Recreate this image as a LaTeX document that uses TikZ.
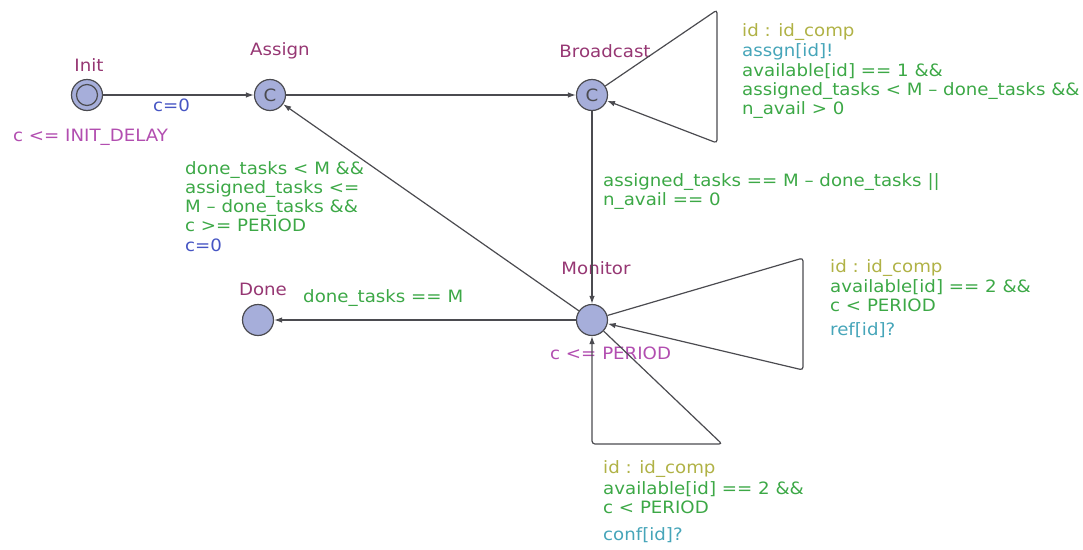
\documentclass[tikz,border=0pt]{standalone}
\usepackage{fontspec}
\setmainfont{DejaVu Sans}[FakeStretch=1.07]
\usetikzlibrary{arrows.meta}
\definecolor{locname}{RGB}{150,55,115}
\definecolor{invcol}{RGB}{178,78,176}
\definecolor{guardcol}{RGB}{60,168,70}
\definecolor{selcol}{RGB}{176,178,70}
\definecolor{synccol}{RGB}{70,165,185}
\definecolor{updcol}{RGB}{70,85,195}
\definecolor{locfill}{RGB}{166,174,218}
\definecolor{edgecol}{RGB}{75,75,80}
\tikzset{
  loc/.style={circle, draw=edgecol, line width=1.2pt, fill=locfill,
    minimum size=31pt, inner sep=0pt, font=\fontsize{17}{17}\selectfont, text=edgecol},
  edge/.style={draw=edgecol, line width=1.2pt, rounded corners=3pt,
    -{Latex[length=8pt,width=5.5pt]}},
  lbl/.style={inner sep=0pt, anchor=west, align=left,
    font=\fontsize{17}{19}\selectfont},
  lname/.style={lbl, anchor=center, text=locname},
  inv/.style={lbl, text=invcol},
  guard/.style={lbl, text=guardcol},
  sel/.style={lbl, text=selcol},
  sync/.style={lbl, text=synccol},
  upd/.style={lbl, text=updcol},
}
\begin{document}
\begin{tikzpicture}[x=1pt, y=-1pt]
\useasboundingbox (0,0) rectangle (1083,549);

% locations
\node[loc] (init) at (87,95) {};
\node[circle, draw=edgecol, line width=1.2pt, minimum size=21pt, inner sep=0pt] at (init) {};
\node[loc] (assign) at (270,95) {C};
\node[loc] (bcast) at (592,95) {C};
\node[loc] (mon) at (592,320) {};
\node[loc] (done) at (258,320) {};

% location names and invariants
\node[lname] (ninit) at (89,65) {Init};
\node[lname] (nassign) at (280,51) {Assign};
\node[lname] (nbcast) at (605,51) {Broadcast};
\node[lname] (nmon) at (596,268) {Monitor};
\node[lname] (ndone) at (263,289) {Done};
\node[inv] (iinit) at (13,137) {c <= INIT\_DELAY};
\node[inv] (imon) at (550,353) {c <= PERIOD};

% loop corners
\coordinate (b1) at (717,10);
\coordinate (b2) at (717,143);
\coordinate (r1) at (803,258);
\coordinate (r2) at (803,370);
\coordinate (d1) at (722,444);
\coordinate (d2) at (592,444);

% transitions
\draw[edge] (init) -- (assign);
\draw[edge] (assign) -- (bcast);
\draw[edge] (bcast) -- (b1) -- (b2) -- (bcast);
\draw[edge] (bcast) -- (mon);
\draw[edge] (mon) -- (assign);
\draw[edge] (mon) -- (done);
\draw[edge] (mon) -- (r1) -- (r2) -- (mon);
\draw[edge] (mon) -- (d1) -- (d2) -- (mon);

% transition labels
\node[upd] (u1) at (153,105) {c=0};

\node[sel] (s1) at (742,32) {id : id\_comp};
\node[sync] (y1) at (742,52) {assgn[id]!};
\node[guard, anchor=north west] (g1) at (742,63) {available[id] == 1 \&\&\\assigned\_tasks < M -- done\_tasks \&\&\\n\_avail > 0};

\node[guard, anchor=north west] (g2) at (603,173) {assigned\_tasks == M -- done\_tasks ||\\n\_avail == 0};

\node[guard, anchor=north west] (g3) at (185,161) {done\_tasks < M \&\&\\assigned\_tasks <=\\M -- done\_tasks \&\&\\c >= PERIOD};
\node[upd] (u3) at (185,245) {c=0};

\node[guard] (g4) at (303,298) {done\_tasks == M};

\node[sel] (s5) at (830,268) {id : id\_comp};
\node[guard, anchor=north west] (g5) at (830,279) {available[id] == 2 \&\&\\c < PERIOD};
\node[sync] (y5) at (830,330) {ref[id]?};

\node[sel] (s6) at (603,469) {id : id\_comp};
\node[guard, anchor=north west] (g6) at (603,481) {available[id] == 2 \&\&\\c < PERIOD};
\node[sync] (y6) at (603,535) {conf[id]?};
\end{tikzpicture}
\end{document}
